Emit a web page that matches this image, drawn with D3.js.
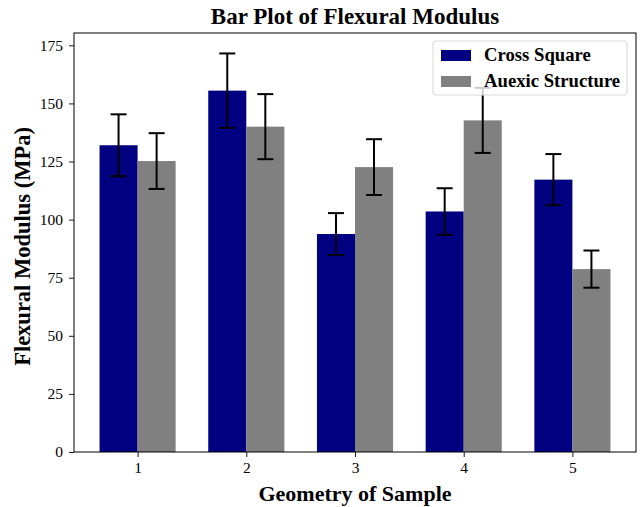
<!DOCTYPE html>
<html>
<head>
<meta charset="utf-8">
<script src="https://cdn.jsdelivr.net/npm/d3@7"></script>
<style>
  body { margin: 0; background: #fff; }
  svg text { font-family: "Liberation Serif", "Times New Roman", serif; }
</style>
</head>
<body>
<div id="chart"></div>
<script>
const samples = [1, 2, 3, 4, 5];
const seriesNames = ["Cross Square", "Auexic Structure"];
const crossSquare = [132, 155.5, 93.8, 103.5, 117.2];
const crossSquareErr = [13.3, 16, 9, 10, 11];
const auexic = [125.2, 140, 122.6, 142.7, 78.7];
const auexicErr = [12, 14, 12, 14, 8];
const yTicks = [0, 25, 50, 75, 100, 125, 150, 175];
const colors = ["#000080", "#808080"];

const w = 642;
const h = 507;
const margin = { top: 33, right: 6, bottom: 55, left: 74 };
const barW = 0.35;

const svg = d3
  .select("#chart")
  .append("svg")
  .attr("width", w)
  .attr("height", h);

const xScale = d3
  .scaleLinear()
  .domain([0.415, 5.585])
  .range([margin.left, w - margin.right]);
const yScale = d3
  .scaleLinear()
  .domain([0, 180.3])
  .range([h - margin.bottom, margin.top]);

const series = [
  { name: seriesNames[0], values: crossSquare, err: crossSquareErr, offset: -barW / 2 },
  { name: seriesNames[1], values: auexic, err: auexicErr, offset: barW / 2 },
];

series.forEach((s, si) => {
  const rows = samples.map((x, i) => ({ x: x + s.offset, v: s.values[i], e: s.err[i] }));
  svg
    .append("g")
    .selectAll("rect")
    .data(rows)
    .enter()
    .append("rect")
    .attr("x", (d) => xScale(d.x - barW / 2))
    .attr("width", (d) => xScale(d.x + barW / 2) - xScale(d.x - barW / 2))
    .attr("y", (d) => yScale(d.v))
    .attr("height", (d) => yScale(0) - yScale(d.v))
    .style("fill", colors[si]);

  const eb = svg.append("g").attr("stroke", "#000").attr("stroke-width", 2);
  rows.forEach((d) => {
    const cx = xScale(d.x);
    eb.append("line")
      .attr("x1", cx).attr("x2", cx)
      .attr("y1", yScale(d.v - d.e)).attr("y2", yScale(d.v + d.e));
    [d.v - d.e, d.v + d.e].forEach((v) => {
      eb.append("line")
        .attr("x1", cx - 8).attr("x2", cx + 8)
        .attr("y1", yScale(v)).attr("y2", yScale(v));
    });
  });
});

// axes
const xAxis = d3
  .axisBottom(xScale)
  .tickValues(samples)
  .tickFormat(d3.format("d"))
  .tickSize(5)
  .tickPadding(5);
const yAxis = d3.axisLeft(yScale).tickValues(yTicks).tickSize(5).tickPadding(6);
const gx = svg
  .append("g")
  .attr("transform", `translate(0,${h - margin.bottom})`)
  .call(xAxis);
const gy = svg
  .append("g")
  .attr("transform", `translate(${margin.left},0)`)
  .call(yAxis);
[gx, gy].forEach((g) => {
  g.attr("font-family", null).attr("font-size", null);
  g.select(".domain").remove();
  g.selectAll("text").style("font-size", "15.5px").attr("fill", "#000");
  g.selectAll("line").attr("stroke", "#000").attr("stroke-width", 0.9);
});

svg
  .append("rect")
  .attr("x", margin.left)
  .attr("y", margin.top)
  .attr("width", w - margin.left - margin.right)
  .attr("height", h - margin.top - margin.bottom)
  .attr("fill", "none")
  .attr("stroke", "#000")
  .attr("stroke-width", 1);

// titles
svg
  .append("text")
  .attr("x", (margin.left + w - margin.right) / 2)
  .attr("y", 24)
  .attr("text-anchor", "middle")
  .style("font-size", "23px")
  .style("font-weight", "bold")
  .text("Bar Plot of Flexural Modulus");
svg
  .append("text")
  .attr("x", (margin.left + w - margin.right) / 2)
  .attr("y", 501)
  .attr("text-anchor", "middle")
  .style("font-size", "22px")
  .style("font-weight", "bold")
  .text("Geometry of Sample");
svg
  .append("text")
  .attr("transform", `translate(30,${(margin.top + h - margin.bottom) / 2 + 4}) rotate(-90)`)
  .attr("text-anchor", "middle")
  .style("font-size", "22.5px")
  .style("font-weight", "bold")
  .text("Flexural Modulus (MPa)");

// legend
const legend = svg.append("g").attr("transform", "translate(433,41)");
legend
  .append("rect")
  .attr("width", 194)
  .attr("height", 54)
  .attr("rx", 3)
  .attr("fill", "#fff")
  .attr("fill-opacity", 0.8)
  .attr("stroke", "#d9d9d9");
seriesNames.forEach((name, i) => {
  legend
    .append("rect")
    .attr("x", 8)
    .attr("y", 9 + i * 26)
    .attr("width", 30)
    .attr("height", 11)
    .attr("fill", colors[i]);
  legend
    .append("text")
    .attr("x", 51)
    .attr("y", 20 + i * 26)
    .style("font-size", "18.7px")
    .style("font-weight", "bold")
    .text(name);
});
</script>
</body>
</html>
